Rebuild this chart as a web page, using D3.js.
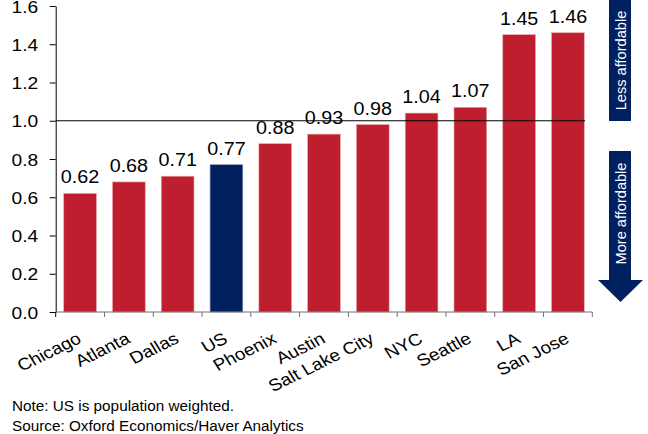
<!DOCTYPE html>
<html>
<head>
<meta charset="utf-8">
<script src="https://cdn.jsdelivr.net/npm/d3@7"></script>
<style>
  html, body { margin: 0; padding: 0; background: #fff; }
  svg { display: block; font-family: "Liberation Sans", Arial, sans-serif; }
</style>
</head>
<body>
<svg id="chart" width="648" height="434"></svg>
<script>
// Affordability index by metro area (US = population weighted)
const categories = ["Chicago", "Atlanta", "Dallas", "US", "Phoenix", "Austin",
                    "Salt Lake City", "NYC", "Seattle", "LA", "San Jose"];
const values = [0.62, 0.68, 0.71, 0.77, 0.88, 0.93, 0.98, 1.04, 1.07, 1.45, 1.46];
const highlight = ["US"];
const yTicks = [0, 0.2, 0.4, 0.6, 0.8, 1.0, 1.2, 1.4, 1.6];
const refValue = 1.0;
const notes = ["Note: US is population weighted.",
               "Source: Oxford Economics/Haver Analytics"];
const sideLabels = ["Less affordable", "More affordable"];

const RED = "#be1e2d", NAVY = "#002060";
const SX = 1.13; // horizontal stretch of the label type

const svg = d3.select("#chart");
const plotLeft = 55.7, plotRight = 592.3, plotTop = 6, plotBottom = 312;

const x = d3.scaleBand().domain(categories).range([plotLeft, plotRight])
  .paddingInner(0.33).paddingOuter(0.165);
const y = d3.scaleLinear().domain([0, 1.6]).range([plotBottom, plotTop]);

// bars
svg.append("g").selectAll("rect").data(categories).join("rect")
  .attr("x", d => x(d))
  .attr("y", (d, i) => y(values[i]))
  .attr("width", x.bandwidth())
  .attr("height", (d, i) => y(0) - y(values[i]))
  .attr("fill", d => highlight.includes(d) ? NAVY : RED)
  .attr("stroke", d => highlight.includes(d) ? "#8090b0" : "#e6a3a8")
  .attr("stroke-width", 0.6);

// value labels
svg.append("g").selectAll("text").data(categories).join("text")
  .attr("transform", (d, i) =>
    `translate(${x(d) + x.bandwidth() / 2},${y(values[i]) - 10}) scale(${SX},1)`)
  .attr("text-anchor", "middle")
  .attr("font-size", 17.5)
  .attr("fill", "#000")
  .text((d, i) => values[i].toFixed(2));

// reference line at 1.0
svg.append("line")
  .attr("x1", plotLeft).attr("x2", 585)
  .attr("y1", y(refValue)).attr("y2", y(refValue))
  .attr("stroke", "#000").attr("stroke-width", 1);

// y axis
const yAxis = svg.append("g")
  .attr("transform", `translate(${plotLeft},0)`)
  .call(d3.axisLeft(y).tickValues(yTicks).tickFormat(d3.format(".1f"))
    .tickSize(6).tickSizeOuter(0));
yAxis.select(".domain").attr("stroke", "#000");
yAxis.selectAll(".tick line").attr("stroke", "#000");
yAxis.selectAll(".tick text")
  .attr("x", 0).attr("dy", "0.36em")
  .attr("transform", `translate(-17.5,0) scale(${SX},1)`)
  .attr("font-size", 17).attr("font-family", "Liberation Sans, Arial, sans-serif")
  .attr("fill", "#000");

// x axis line with ticks at category boundaries
const xg = svg.append("g");
xg.append("line")
  .attr("x1", plotLeft).attr("x2", plotRight)
  .attr("y1", plotBottom).attr("y2", plotBottom)
  .attr("stroke", "#707070").attr("stroke-width", 1);
const bounds = d3.range(categories.length + 1).map(i => plotLeft + i * x.step());
xg.selectAll("line.tk").data(bounds).join("line").attr("class", "tk")
  .attr("x1", d => d).attr("x2", d => d)
  .attr("y1", plotBottom).attr("y2", plotBottom + 5)
  .attr("stroke", (d, i) => i === 0 ? "#000" : "#707070");

// category labels, slanted
xg.selectAll("text").data(categories).join("text")
  .attr("transform", d =>
    `translate(${x(d) + x.bandwidth() / 2 + 2.5},342) scale(${SX},1) rotate(-29)`)
  .attr("text-anchor", "end")
  .attr("font-size", 16.8)
  .attr("fill", "#000")
  .text(d => d);

// footnotes
svg.append("g").selectAll("text").data(notes).join("text")
  .attr("x", 12).attr("y", (d, i) => 411 + i * 19.5)
  .attr("font-size", 15.3)
  .attr("fill", "#000")
  .text(d => d);

// direction markers on the right
const side = svg.append("g");
side.append("rect").attr("x", 609).attr("y", 0).attr("width", 22).attr("height", 121)
  .attr("fill", NAVY);
side.append("rect").attr("x", 609).attr("y", 151).attr("width", 22).attr("height", 129)
  .attr("fill", NAVY);
side.append("path").attr("d", "M598,280 L643,280 L620.5,302 Z").attr("fill", NAVY);
side.selectAll("text").data(sideLabels).join("text")
  .attr("transform", (d, i) => `translate(625.5,${i === 0 ? 60.5 : 213.5}) rotate(-90)`)
  .attr("text-anchor", "middle")
  .attr("font-size", 14.6)
  .attr("fill", "#fff")
  .text(d => d);
</script>
</body>
</html>
